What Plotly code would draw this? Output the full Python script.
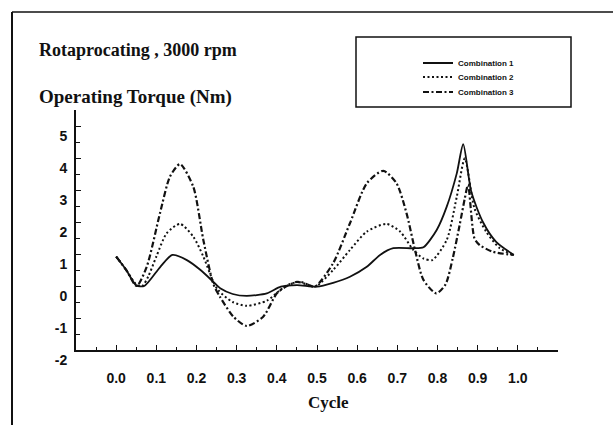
import plotly.graph_objects as go

# ---- data ----
cycle_1 = [0.0, 0.025, 0.05, 0.07, 0.11, 0.14, 0.176, 0.21, 0.242, 0.26, 0.29, 0.325, 0.375, 0.41, 0.45, 0.50,
           0.54, 0.582, 0.624, 0.657, 0.69, 0.74, 0.765, 0.798, 0.823, 0.848, 0.864, 0.884, 0.913, 0.946, 0.99]
torque_1 = [0.92, 0.5, 0.02, 0.0, 0.6, 0.97, 0.81, 0.5, 0.13, -0.08, -0.25, -0.31, -0.23, -0.02, 0.03, -0.02,
            0.1, 0.29, 0.6, 0.97, 1.18, 1.18, 1.21, 1.75, 2.48, 3.52, 4.43, 2.95, 2.0, 1.38, 0.97]

cycle_2 = [0.0, 0.025, 0.05, 0.065, 0.08, 0.10, 0.126, 0.159, 0.192, 0.217, 0.242, 0.254, 0.29, 0.325, 0.375,
           0.408, 0.43, 0.458, 0.495, 0.54, 0.582, 0.624, 0.673, 0.707, 0.74, 0.765, 0.787, 0.823, 0.848, 0.868,
           0.892, 0.921, 0.955, 0.99]
torque_2 = [0.92, 0.5, 0.05, 0.0, 0.3, 0.92, 1.65, 1.94, 1.54, 0.92, 0.13, -0.13, -0.5, -0.62, -0.46,
            -0.13, 0.05, 0.13, -0.02, 0.5, 1.125, 1.7, 1.94, 1.7, 1.125, 0.86, 0.81, 1.44, 2.79, 3.99,
            2.43, 1.7, 1.18, 0.97]

cycle_3 = [0.0, 0.025, 0.051, 0.076, 0.109, 0.134, 0.159, 0.192, 0.217, 0.242, 0.258, 0.292, 0.325, 0.366, 0.40,
           0.425, 0.45, 0.475, 0.495, 0.54, 0.582, 0.624, 0.665, 0.698, 0.723, 0.744, 0.765, 0.797, 0.82,
           0.838, 0.855, 0.868, 0.876, 0.892, 0.905, 0.938, 0.99]
torque_3 = [0.92, 0.5, 0.0, 0.6, 2.27, 3.42, 3.81, 3.1, 1.44, 0.06, -0.33, -0.96, -1.25, -0.96, -0.23,
            0.0, 0.13, 0.05, -0.02, 0.71, 1.96, 3.21, 3.6, 3.21, 2.27, 1.125, 0.19, -0.23, 0.05,
            0.87, 1.9, 2.74, 3.16, 1.49, 1.28, 1.07, 0.97]

series_names = ["Combination 1", "Combination 2", "Combination 3"]
x_tick_vals = [0.0, 0.1, 0.2, 0.3, 0.4, 0.5, 0.6, 0.7, 0.8, 0.9, 1.0]
x_tick_text = ["0.0", "0.1", "0.2", "0.3", "0.4", "0.5", "0.6", "0.7", "0.8", "0.9", "1.0"]
y_tick_vals = [-2, -1, 0, 1, 2, 3, 4, 5]
y_tick_text = ["-2", "-1", "0", "1", "2", "3", "4", "5"]

title_text = "Rotaprocating , 3000 rpm"
y_title_text = "Operating Torque (Nm)"
x_title_text = "Cycle"

INK = "#111111"
SERIF = "Liberation Serif, Times New Roman, serif"
SANS = "Liberation Sans, Arial, sans-serif"


def px_x(p):
    return (p - 76) / 482


def px_y(p):
    return (350 - p) / 240


fig = go.Figure()
styles = [
    dict(width=1.8, dash="solid"),
    dict(width=2.0, dash="2px,2.5px"),
    dict(width=2.2, dash="6px,2.5px,2px,2.5px"),
]
legend_ids = ["legend", "legend2", "legend3"]
legend_rows = [63, 77, 92]
for name, xs, ys, st, lg in zip(series_names, [cycle_1, cycle_2, cycle_3],
                                [torque_1, torque_2, torque_3], styles, legend_ids):
    fig.add_trace(go.Scatter(
        x=xs, y=ys, mode="lines", name=name, legend=lg,
        line=dict(color=INK, width=st["width"], dash=st["dash"], shape="spline", smoothing=0.7),
    ))

legend_font = dict(family="Liberation Sans Narrow, " + SANS, size=8, color=INK, weight="bold")
legend_layout = {}
for lg, row in zip(legend_ids, legend_rows):
    legend_layout[lg] = dict(
        x=px_x(418), xanchor="left", y=px_y(row), yanchor="middle",
        bgcolor="rgba(0,0,0,0)", borderwidth=0, font=legend_font,
    )

fig.update_layout(
    width=613, height=425,
    margin=dict(l=76, r=55, t=110, b=75),
    paper_bgcolor="white", plot_bgcolor="white",
    showlegend=True,
    **legend_layout,
    xaxis=dict(
        range=[-0.1, 1.1], tickvals=x_tick_vals, ticktext=x_tick_text,
        ticks="inside", ticklen=5, tickwidth=1.2, tickcolor=INK,
        minor=dict(dtick=0.05, tick0=0, ticks="inside", ticklen=3, tickcolor=INK, tickwidth=1),
        showline=True, linecolor=INK, linewidth=2, showgrid=False, zeroline=False,
        tickfont=dict(family=SANS, size=14, color=INK, weight="bold"),
        ticklabelstandoff=14,
    ),
    yaxis=dict(
        range=[-2, 5.5], tickvals=y_tick_vals, ticktext=y_tick_text,
        ticks="inside", ticklen=5, tickwidth=1.2, tickcolor=INK,
        minor=dict(dtick=0.5, tick0=0, ticks="inside", ticklen=4, tickcolor=INK, tickwidth=1),
        showline=True, linecolor=INK, linewidth=2, showgrid=False, zeroline=False,
        tickfont=dict(family=SANS, size=14, color=INK, weight="bold"),
        ticklabelshift=10, ticklabelstandoff=4,
    ),
)

fig.add_annotation(x=px_x(37), y=px_y(50), xref="paper", yref="paper", xanchor="left", yanchor="middle",
                   text=title_text, showarrow=False,
                   font=dict(family=SERIF, size=18, color=INK, weight="bold"))
fig.add_annotation(x=px_x(37), y=px_y(97), xref="paper", yref="paper", xanchor="left", yanchor="middle",
                   text=y_title_text, showarrow=False,
                   font=dict(family=SERIF, size=19, color=INK, weight="bold"))
fig.add_annotation(x=px_x(328), y=px_y(402), xref="paper", yref="paper", xanchor="center", yanchor="middle",
                   text=x_title_text, showarrow=False,
                   font=dict(family=SERIF, size=17, color=INK, weight="bold"))

# outer frame (left and top edges) and legend box
fig.add_shape(type="line", xref="paper", yref="paper", x0=px_x(12), x1=px_x(12), y0=px_y(12), y1=px_y(430),
              line=dict(color=INK, width=2))
fig.add_shape(type="line", xref="paper", yref="paper", x0=px_x(12), x1=px_x(620), y0=px_y(12), y1=px_y(12),
              line=dict(color=INK, width=1.5))
fig.add_shape(type="rect", xref="paper", yref="paper", x0=px_x(356), x1=px_x(571), y0=px_y(37), y1=px_y(107),
              line=dict(color=INK, width=1.5))

fig.write_html("out.html")
